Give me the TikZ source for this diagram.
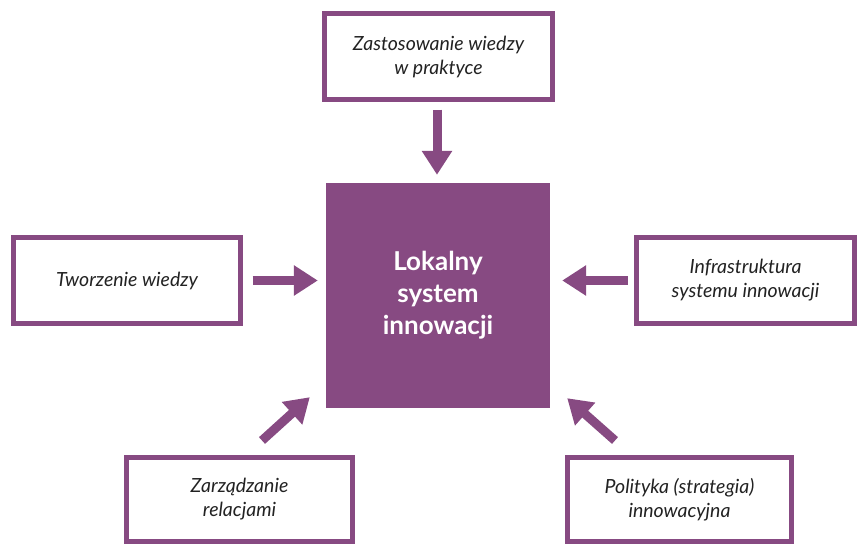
\documentclass[tikz,border=0pt]{standalone}
\usepackage{fontspec}
\setmainfont{Lato}
\usetikzlibrary{arrows.meta,calc}
\definecolor{plum}{HTML}{874A82}
\definecolor{txt}{HTML}{222222}
\tikzset{
  outbox/.style={draw=plum, line width=5pt, fill=white, align=center, inner sep=0pt,
    font=\fontsize{19.5}{24}\selectfont\itshape, text=txt, minimum height=86pt},
  corebox/.style={fill=plum, draw=none, align=center, text=white,
    font=\fontsize{26}{32}\selectfont\bfseries, minimum width=224pt, minimum height=225pt},
  fat/.style={draw=plum, line width=9pt, -{Triangle[length=24pt,width=29pt]}}
}
\begin{document}
\begin{tikzpicture}[x=1pt,y=1pt]
\useasboundingbox (0,0) rectangle (857,-544);
\node[corebox] (core) at (438,-295.5) {Lokalny\\system\\innowacji};
\node[outbox, minimum width=228pt] (top) at (438.5,-56.5) {Zastosowanie wiedzy\\w praktyce};
\node[outbox, minimum width=227pt] (left) at (127,-280.5) {Tworzenie wiedzy};
\node[outbox, minimum width=218pt] (right) at (745.5,-280.5) {Infrastruktura\\systemu innowacji};
\node[outbox, minimum width=226pt, minimum height=84pt] (bl) at (239.5,-499.5) {Zarządzanie\\relacjami};
\node[outbox, minimum width=224pt, minimum height=84pt] (br) at (679.5,-499.5) {Polityka (strategia)\\innowacyjna};
\draw[fat, shorten <=7.5pt, shorten >=8pt] (top.south -| 437,0) -- (core.north -| 437,0);
\draw[fat, shorten <=9.5pt, shorten >=8pt] (left.east) -- (left.east -| core.west);
\draw[fat, shorten <=6.5pt, shorten >=12pt] (right.west) -- (right.west -| core.east);
\draw[fat] ($(bl.north)+(22.5,14.5)$) -- ($(core.south west)+(-16,11)$);
\draw[fat] ($(br.north)+(-64.5,14.5)$) -- ($(core.south east)+(17,10)$);
\end{tikzpicture}
\end{document}
